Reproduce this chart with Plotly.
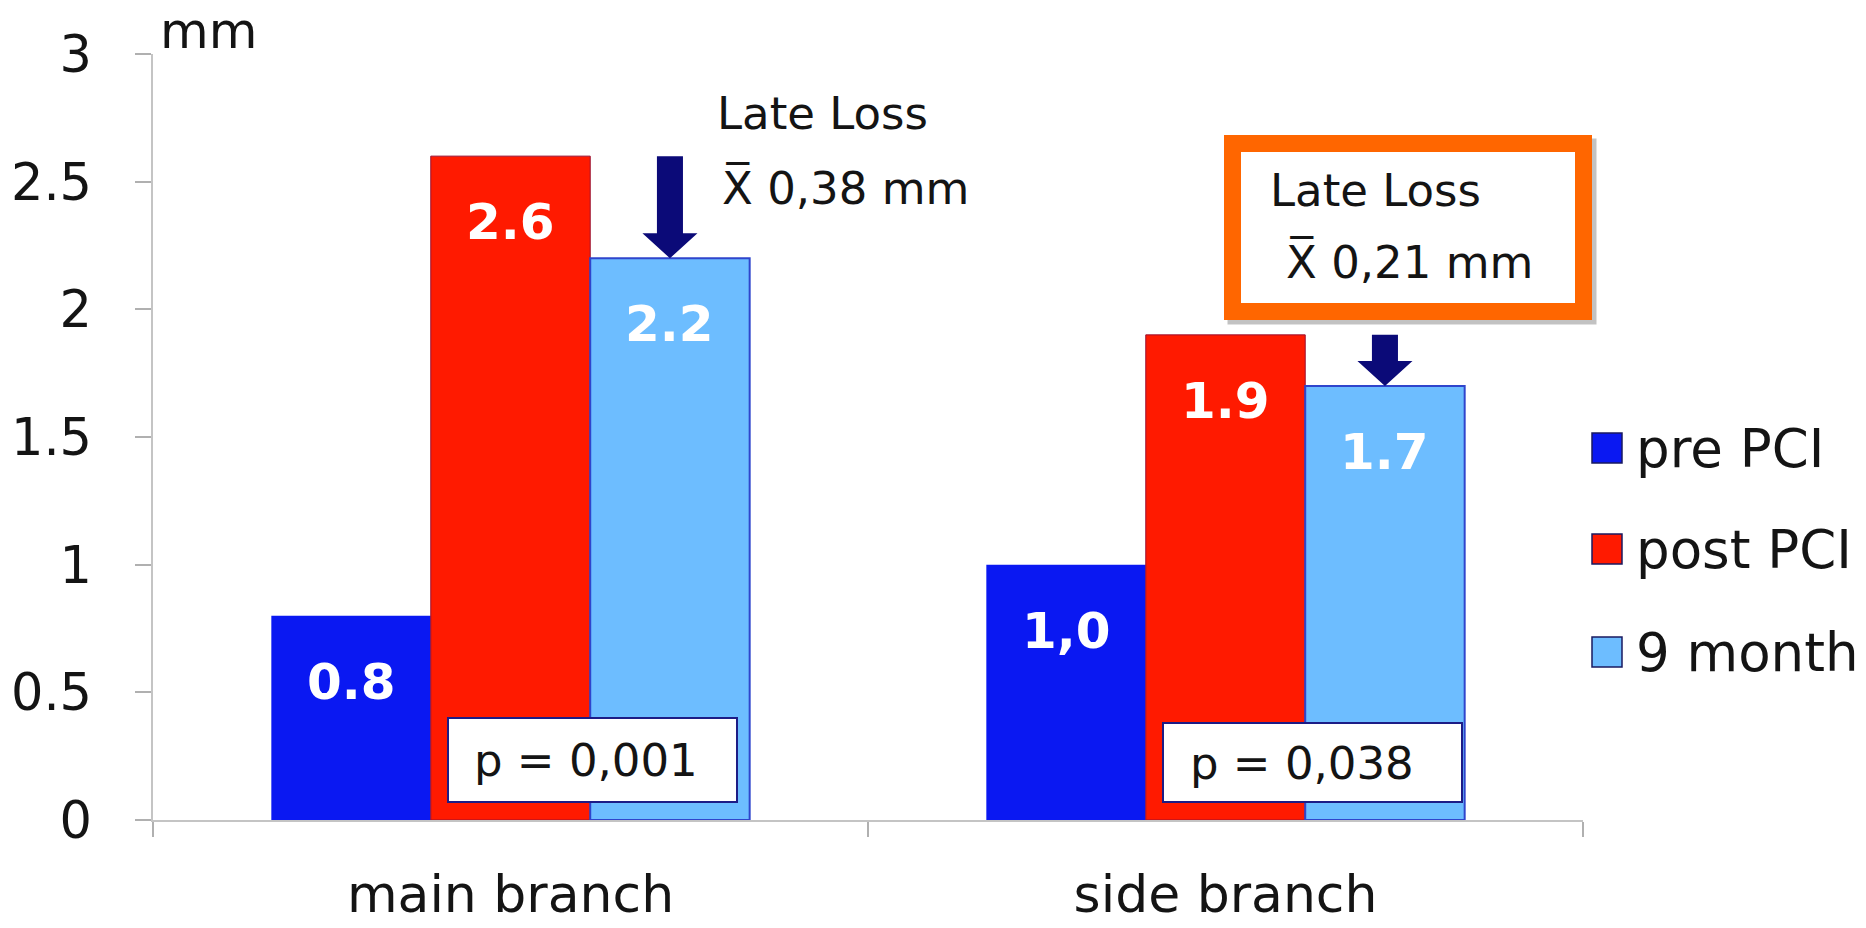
import plotly.graph_objects as go

# ---- data -------------------------------------------------------------
categories = ["main branch", "side branch"]
series_names = ["pre PCI", "post PCI", "9 month"]
pre_pci = [0.8, 1.0]
post_pci = [2.6, 1.9]
nine_month = [2.2, 1.7]
value_labels = [["0.8", "1,0"], ["2.6", "1.9"], ["2.2", "1.7"]]
late_loss = ["0,38", "0,21"]
p_values = ["0,001", "0,038"]
y_ticks = [0, 0.5, 1, 1.5, 2, 2.5, 3]

# ---- styling ----------------------------------------------------------
FONT = "DejaVu Sans"
TXT = "#141414"
colors = ["#0a18f2", "#ff1a00", "#6dbdff"]
edges = [("#0a18f2", 0), ("#9a1030", 1), ("#2f45cc", 2)]
NAVY = "#0b0a78"
ORANGE = "#ff6600"

# plot-area geometry (pixels in the 1866x928 page)
W_PAGE, H_PAGE = 1866, 928
L, R, T, B = 153, 1583, 54, 820
BARGAP = 0.331


def px(x):
    return (x - L) / (R - L)


def py(y):
    return (B - y) / (B - T)


fig = go.Figure()
series = [pre_pci, post_pci, nine_month]
for name, vals, col, (lc, lw) in zip(series_names, series, colors, edges):
    fig.add_trace(go.Bar(
        x=categories, y=vals, name=name,
        marker=dict(color=col, line=dict(color=lc, width=lw)),
        showlegend=False,
    ))

bar_w = (1 - BARGAP) / len(series)
annotations = []
shapes = []

# value labels inside the bars
for i, vals in enumerate(series):
    for j, v in enumerate(vals):
        annotations.append(dict(
            x=j + (i - 1) * bar_w, y=v, xref="x", yref="y",
            text="<b>%s</b>" % value_labels[i][j], showarrow=False,
            yshift=-66, yanchor="middle",
            font=dict(family=FONT, size=50, color="white"),
        ))

# late-loss arrows: from post PCI height down to 9 month height, over the 9 month bar
shaft_hw = 0.0182
head_hw = 0.0385
head_len = 0.098
for j in range(len(categories)):
    xc = j + bar_w
    y_top, y_tip = post_pci[j], nine_month[j]
    yb = y_tip + head_len
    path = (f"M {xc - shaft_hw},{y_top} L {xc + shaft_hw},{y_top} "
            f"L {xc + shaft_hw},{yb} L {xc + head_hw},{yb} L {xc},{y_tip} "
            f"L {xc - head_hw},{yb} L {xc - shaft_hw},{yb} Z")
    shapes.append(dict(type="path", xref="x", yref="y", path=path,
                       fillcolor=NAVY, line=dict(width=0), layer="above"))

# orange frame around the side-branch late loss note (with a soft shadow)
shapes.append(dict(type="rect", xref="paper", yref="paper",
                   x0=px(1236), x1=px(1588), y0=py(147), y1=py(316),
                   line=dict(color="rgba(120,120,120,0.45)", width=17),
                   fillcolor="rgba(0,0,0,0)", layer="above"))
shapes.append(dict(type="rect", xref="paper", yref="paper",
                   x0=px(1232.5), x1=px(1583.5), y0=py(143.5), y1=py(311.5),
                   line=dict(color=ORANGE, width=17), fillcolor="white",
                   layer="above"))

# p-value boxes
p_boxes = [(448, 737, 718, 802), (1163, 1462, 723, 802)]
p_text_left = [472, 1188]
p_text_y = [760, 763]
for (x0, x1, y0, y1), ptxt, tx, ty in zip(p_boxes, p_values, p_text_left, p_text_y):
    shapes.append(dict(type="rect", xref="paper", yref="paper",
                       x0=px(x0), x1=px(x1), y0=py(y1), y1=py(y0),
                       line=dict(color="#1c1c86", width=2), fillcolor="white",
                       layer="above"))
    annotations.append(dict(x=px(tx), y=py(ty), xref="paper", yref="paper",
                            text="p = %s" % ptxt, showarrow=False,
                            xanchor="left", yanchor="middle",
                            font=dict(family=FONT, size=45, color=TXT)))

# late-loss notes
ll_pos = [((715, 114), (720, 188)), ((1268, 190), (1284, 262))]
for (l1, l2), val in zip(ll_pos, late_loss):
    annotations.append(dict(x=px(l1[0]), y=py(l1[1]), xref="paper", yref="paper",
                            text="Late Loss", showarrow=False,
                            xanchor="left", yanchor="middle",
                            font=dict(family=FONT, size=45, color=TXT)))
    annotations.append(dict(x=px(l2[0]), y=py(l2[1]), xref="paper", yref="paper",
                            text="X\u0305 %s mm" % val, showarrow=False,
                            xanchor="left", yanchor="middle",
                            font=dict(family=FONT, size=45, color=TXT)))

# axis unit
annotations.append(dict(x=px(158), y=py(31), xref="paper", yref="paper",
                        text="mm", showarrow=False, xanchor="left",
                        yanchor="middle",
                        font=dict(family=FONT, size=50, color=TXT)))

# legend
legend_y = [448, 549, 652]
for name, col, (lc, lw), ly in zip(series_names, colors, edges, legend_y):
    shapes.append(dict(type="rect", xref="paper", yref="paper",
                       x0=px(1592), x1=px(1622), y0=py(ly + 15), y1=py(ly - 15),
                       fillcolor=col, line=dict(color="#1a1a60", width=1.5)))
    annotations.append(dict(x=px(1634), y=py(ly), xref="paper", yref="paper",
                            text=name, showarrow=False, xanchor="left",
                            yanchor="middle",
                            font=dict(family=FONT, size=53, color=TXT)))

fig.update_layout(
    width=W_PAGE, height=H_PAGE,
    margin=dict(l=L, r=W_PAGE - R, t=T, b=H_PAGE - B, pad=0),
    paper_bgcolor="white", plot_bgcolor="white",
    barmode="group", bargap=BARGAP, bargroupgap=0,
    font=dict(family=FONT, color=TXT),
    showlegend=False,
    annotations=annotations, shapes=shapes,
    xaxis=dict(
        type="category", tickson="boundaries", automargin=False,
        showline=True, linecolor="#c4c4c4", linewidth=1.5,
        ticks="outside", ticklen=15, tickcolor="#b0b0b0", tickwidth=1.5,
        tickfont=dict(family=FONT, size=52, color=TXT),
        ticklabelstandoff=28,
        showgrid=False, zeroline=False,
    ),
    yaxis=dict(
        range=[0, 3], tickvals=y_ticks, automargin=False,
        ticktext=[("%g" % v) for v in y_ticks],
        showline=True, linecolor="#c4c4c4", linewidth=1.5,
        ticks="outside", ticklen=16, tickcolor="#b0b0b0", tickwidth=1.5,
        tickfont=dict(family=FONT, size=51, color=TXT),
        ticklabelstandoff=33,
        showgrid=False, zeroline=False,
    ),
)

fig.write_html("out.html")
